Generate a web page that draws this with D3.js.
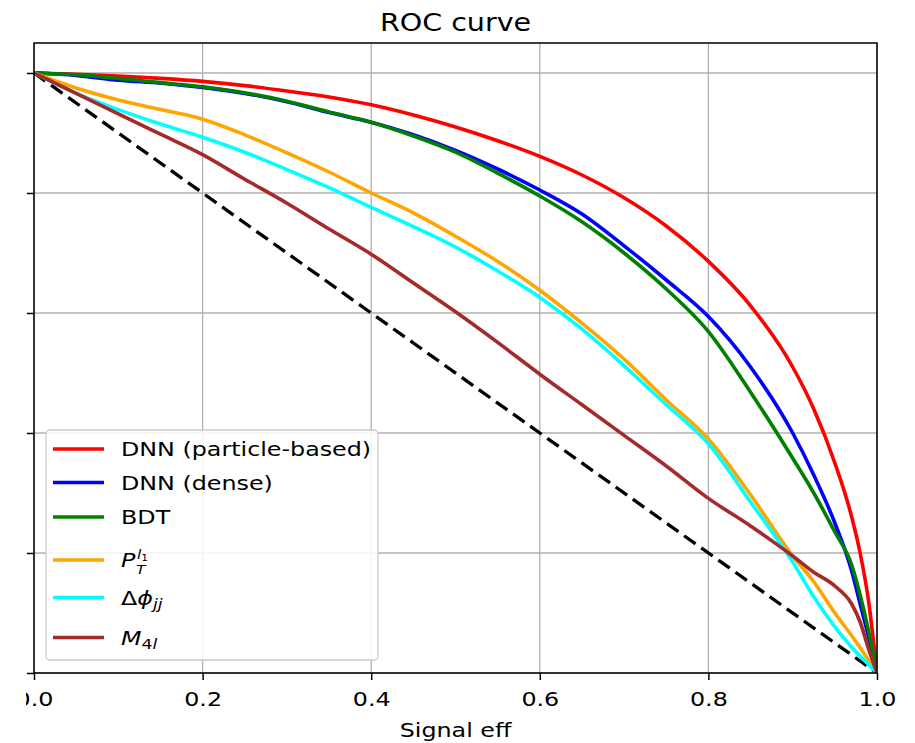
<!DOCTYPE html>
<html><head><meta charset="utf-8">
<script src="https://cdn.jsdelivr.net/npm/d3@7"></script>
<style>body{margin:0;background:#fff;} svg{display:block;font-family:"DejaVu Sans",sans-serif;}</style>
</head><body>
<svg id="chart" width="915" height="743"></svg>
<script>
const xs          = [0, 0.05, 0.1, 0.15, 0.2, 0.25, 0.3, 0.35, 0.4, 0.45, 0.5, 0.55, 0.6, 0.65, 0.7, 0.75, 0.8, 0.85, 0.9, 0.925, 0.95, 0.97, 0.98, 0.99, 1.0];
const dnnParticle = [1, 0.998, 0.995, 0.991, 0.986, 0.979, 0.970, 0.960, 0.947, 0.930, 0.910, 0.887, 0.861, 0.830, 0.792, 0.745, 0.686, 0.612, 0.510, 0.440, 0.350, 0.260, 0.200, 0.12, 0];
const dnnDense    = [1, 0.996, 0.988, 0.983, 0.976, 0.966, 0.952, 0.934, 0.918, 0.897, 0.871, 0.840, 0.805, 0.765, 0.712, 0.655, 0.594, 0.510, 0.400, 0.330, 0.250, 0.170, 0.115, 0.06, 0];
const bdt         = [1, 0.997, 0.991, 0.984, 0.977, 0.967, 0.953, 0.935, 0.918, 0.895, 0.868, 0.833, 0.795, 0.752, 0.700, 0.640, 0.569, 0.468, 0.358, 0.300, 0.235, 0.180, 0.13, 0.07, 0];
const ptl1        = [1, 0.975, 0.955, 0.939, 0.923, 0.897, 0.867, 0.835, 0.800, 0.767, 0.728, 0.686, 0.638, 0.583, 0.523, 0.455, 0.390, 0.297, 0.195, 0.152, 0.100, 0.062, 0.042, 0.021, 0];
const dphijj      = [1, 0.966, 0.939, 0.915, 0.893, 0.868, 0.839, 0.809, 0.776, 0.744, 0.710, 0.670, 0.626, 0.573, 0.512, 0.447, 0.382, 0.285, 0.185, 0.127, 0.077, 0.043, 0.028, 0.014, 0];
const m4l         = [1, 0.966, 0.932, 0.898, 0.864, 0.823, 0.783, 0.740, 0.698, 0.650, 0.602, 0.551, 0.498, 0.447, 0.396, 0.345, 0.291, 0.245, 0.195, 0.168, 0.145, 0.115, 0.085, 0.04, 0];
const diagX = [0, 1], diagY = [1, 0];
const xTicks = [0, 0.2, 0.4, 0.6, 0.8, 1.0];
const yTicks = [0, 0.2, 0.4, 0.6, 0.8, 1.0];
const seriesNames = ["DNN (particle-based)", "DNN (dense)", "BDT", "PT", "DPHI", "M4L"];
const seriesColors = ["#ff0000", "#0000ff", "#008000", "#ffa500", "#00ffff", "#a52a2a"];
const seriesValues = [dnnParticle, dnnDense, bdt, ptl1, dphijj, m4l];

const SX = 1.19; // horizontal text stretch of the reference
const FS = 20;
const svg = d3.select("#chart");
const x = d3.scaleLinear().domain([0, 1]).range([34, 877]);
const y = d3.scaleLinear().domain([0, 1.05]).range([673, 43]);

function stext(px, py, size, anchor) {
  return svg.append("text").attr("x", 0).attr("y", 0)
    .attr("transform", `translate(${px},${py}) scale(${SX},1)`)
    .attr("font-size", size).attr("text-anchor", anchor || "start").attr("fill", "#000");
}

// grid
const g = svg.append("g");
g.selectAll(".vg").data(xTicks).enter().append("line")
  .attr("x1", d => x(d)).attr("x2", d => x(d)).attr("y1", y(0)).attr("y2", y(1.05))
  .attr("stroke", "#b0b0b0").attr("stroke-width", 1.3);
g.selectAll(".hg").data(yTicks).enter().append("line")
  .attr("y1", d => y(d)).attr("y2", d => y(d)).attr("x1", x(0)).attr("x2", x(1))
  .attr("stroke", "#b0b0b0").attr("stroke-width", 1.3);

svg.append("clipPath").attr("id", "plotclip").append("rect")
  .attr("x", x(0)).attr("y", y(1.05)).attr("width", x(1) - x(0)).attr("height", y(0) - y(1.05));

const plot = svg.append("g").attr("clip-path", "url(#plotclip)");
const line = d3.line().x(d => x(d[0])).y(d => y(d[1])).curve(d3.curveMonotoneX);

plot.append("path").datum(diagX.map((v, i) => [v, diagY[i]]))
  .attr("d", d3.line().x(d => x(d[0])).y(d => y(d[1]))).attr("fill", "none").attr("stroke", "#000").attr("stroke-width", 3.3)
  .attr("stroke-dasharray", "14,7");

seriesValues.forEach((vals, i) => {
  plot.append("path").datum(xs.map((v, j) => [v, vals[j]]))
    .attr("d", line).attr("fill", "none").attr("stroke", seriesColors[i])
    .attr("stroke-width", 3.6).attr("stroke-linejoin", "round");
});

// frame
svg.append("rect").attr("x", x(0)).attr("y", y(1.05)).attr("width", x(1) - x(0)).attr("height", y(0) - y(1.05))
  .attr("fill", "none").attr("stroke", "#000").attr("stroke-width", 1.5);

// x axis
const xAxis = d3.axisBottom(x).tickValues(xTicks).tickFormat(d3.format(".1f")).tickSize(7);
const xg = svg.append("g").attr("transform", `translate(0,${y(0)})`).call(xAxis);
xg.select(".domain").remove();
xg.selectAll("line").attr("stroke", "#000").attr("stroke-width", 1.5);
xg.selectAll("text").attr("font-size", FS).attr("fill", "#000").attr("font-family", "DejaVu Sans")
  .attr("y", 33.5).attr("dy", 0).attr("transform", `scale(${SX},1)`);

// y axis (ticks only, labels hidden)
const yAxis = d3.axisLeft(y).tickValues(yTicks).tickFormat("").tickSize(7);
const yg = svg.append("g").attr("transform", `translate(${x(0)},0)`).call(yAxis);
yg.select(".domain").remove();
yg.selectAll("line").attr("stroke", "#000").attr("stroke-width", 1.5);

// left cropping mask
svg.append("rect").attr("x", 0).attr("y", 0).attr("width", 26).attr("height", 743).attr("fill", "#fff");

// title and axis label
stext((x(0) + x(1)) / 2, 31, 24, "middle").text("ROC curve");
stext((x(0) + x(1)) / 2, 737, FS, "middle").text("Signal eff");

// legend
svg.append("rect").attr("x", 46).attr("y", 430).attr("width", 332).attr("height", 230).attr("rx", 4)
  .attr("fill", "#fff").attr("fill-opacity", 0.85).attr("stroke", "#cccccc").attr("stroke-width", 1.3);
const rowY = [449, 482.5, 517, 560, 597.5, 637.5];
seriesNames.forEach((name, i) => {
  svg.append("line").attr("x1", 53).attr("x2", 104).attr("y1", rowY[i]).attr("y2", rowY[i])
    .attr("stroke", seriesColors[i]).attr("stroke-width", 3.6);
  const base = rowY[i] + 7;
  if (name === "PT") {
    stext(121, base, FS).attr("font-style", "italic").text("P");
    stext(136, base + 6.5, 13).attr("font-style", "italic").text("T");
    const sup = stext(137, base - 8.5, 13);
    sup.append("tspan").attr("font-style", "italic").text("l");
    sup.append("tspan").attr("font-size", 9).attr("dy", 2).text("1");
  } else if (name === "DPHI") {
    const t = stext(121, base, FS);
    t.append("tspan").text("Δ");
    t.append("tspan").attr("font-style", "italic").text("ϕ");
    t.append("tspan").attr("font-style", "italic").attr("font-size", 14.5).attr("dy", 4.5).text("jj");
  } else if (name === "M4L") {
    const t = stext(121, base, FS);
    t.append("tspan").attr("font-style", "italic").text("M");
    t.append("tspan").attr("font-size", 14.5).attr("dy", 4).text("4");
    t.append("tspan").attr("font-style", "italic").attr("font-size", 14.5).text("l");
  } else {
    stext(121, base, FS).text(name);
  }
});
</script>
</body></html>
